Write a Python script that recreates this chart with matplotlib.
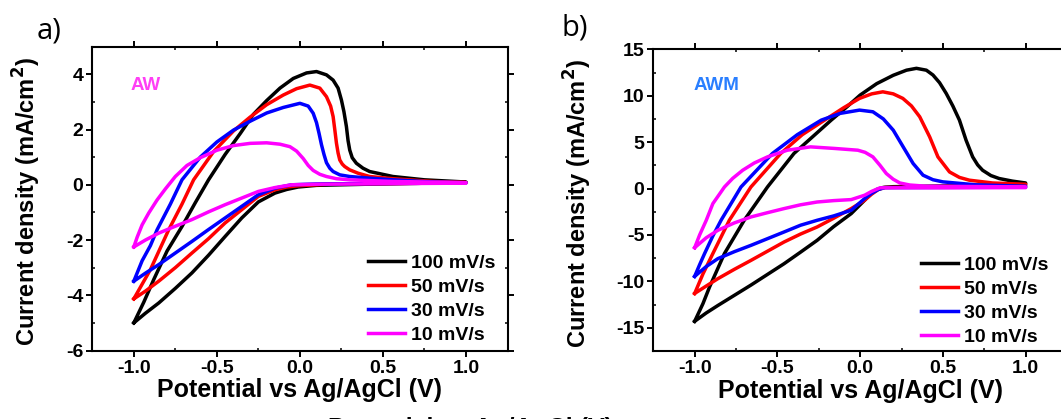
import matplotlib
matplotlib.use("Agg")
import matplotlib.pyplot as plt
from matplotlib.ticker import MultipleLocator, FormatStrFormatter

plt.rcParams['font.family'] = ['Liberation Sans', 'DejaVu Sans']
plt.rcParams['axes.unicode_minus'] = False

labels = ["100 mV/s", "50 mV/s", "30 mV/s", "10 mV/s"]
colors = ["#000000", "#FF0000", "#0000FF", "#FF00FF"]

# ---------- Panel a (AW): anodic scan from -1.0 V to 1.0 V, then back ----------
a_black_x = [-1.0, -0.94, -0.88, -0.80, -0.71, -0.63, -0.55, -0.45, -0.36, -0.28, -0.20, -0.12, -0.04, 0.04, 0.10, 0.16, 0.20, 0.23, 0.25, 0.265, 0.28, 0.29, 0.30, 0.315, 0.34, 0.38, 0.42, 0.56, 0.75, 1.0,
             1.0, 0.7, 0.4, 0.1, -0.01, -0.08, -0.15, -0.25, -0.35, -0.45, -0.55, -0.65, -0.75, -0.85, -0.93, -1.0]
a_black_y = [-5.0, -4.25, -3.43, -2.4, -1.51, -0.65, 0.18, 1.1, 1.85, 2.55, 3.05, 3.5, 3.85, 4.05, 4.1, 3.98, 3.79, 3.5, 3.07, 2.65, 2.11, 1.6, 1.26, 0.98, 0.78, 0.6, 0.48, 0.30, 0.18, 0.1,
             0.1, 0.05, 0.02, -0.02, -0.08, -0.17, -0.30, -0.62, -1.2, -1.87, -2.55, -3.19, -3.75, -4.28, -4.65, -5.0]

a_red_x = [-1.0, -0.95, -0.90, -0.79, -0.71, -0.64, -0.52, -0.40, -0.30, -0.20, -0.10, -0.02, 0.06, 0.12, 0.16, 0.185, 0.20, 0.21, 0.22, 0.23, 0.24, 0.255, 0.27, 0.30, 0.35, 0.42, 0.56, 0.8, 1.0,
           1.0, 0.6, 0.2, 0.0, -0.08, -0.15, -0.25, -0.35, -0.45, -0.55, -0.65, -0.75, -0.85, -0.93, -1.0]
a_red_y = [-4.13, -3.6, -3.07, -1.63, -0.7, 0.18, 1.2, 1.95, 2.45, 2.9, 3.25, 3.48, 3.61, 3.5, 3.19, 2.85, 2.47, 2.0, 1.51, 1.15, 0.90, 0.75, 0.66, 0.54, 0.42, 0.30, 0.22, 0.12, 0.08,
           0.08, 0.05, 0.03, -0.03, -0.08, -0.18, -0.42, -0.9, -1.38, -1.95, -2.47, -3.0, -3.49, -3.85, -4.13]

a_blue_x = [-1.0, -0.95, -0.90, -0.86, -0.78, -0.71, -0.60, -0.50, -0.40, -0.30, -0.20, -0.10, 0.0, 0.05, 0.08, 0.10, 0.115, 0.13, 0.145, 0.16, 0.18, 0.20, 0.24, 0.30, 0.42, 0.56, 0.8, 1.0,
            1.0, 0.5, 0.1, -0.05, -0.15, -0.25, -0.35, -0.45, -0.55, -0.65, -0.75, -0.85, -0.93, -1.0]
a_blue_y = [-3.49, -2.75, -2.2, -1.63, -0.7, 0.18, 1.0, 1.55, 1.98, 2.3, 2.6, 2.8, 2.95, 2.85, 2.59, 2.25, 1.87, 1.45, 1.1, 0.8, 0.6, 0.48, 0.36, 0.3, 0.24, 0.18, 0.1, 0.07,
            0.07, 0.05, 0.03, 0.0, -0.12, -0.36, -0.78, -1.20, -1.62, -2.05, -2.47, -2.89, -3.2, -3.49]

a_mag_x = [-1.0, -0.98, -0.95, -0.91, -0.86, -0.81, -0.75, -0.68, -0.60, -0.50, -0.40, -0.30, -0.20, -0.12, -0.06, -0.02, 0.02, 0.05, 0.08, 0.12, 0.16, 0.22, 0.30, 0.56, 1.0,
           1.0, 0.5, 0.1, -0.05, -0.15, -0.25, -0.35, -0.45, -0.55, -0.65, -0.75, -0.85, -0.93, -1.0]
a_mag_y = [-2.25, -1.9, -1.45, -1.02, -0.55, -0.15, 0.3, 0.7, 0.98, 1.25, 1.42, 1.5, 1.52, 1.47, 1.38, 1.22, 0.95, 0.7, 0.52, 0.38, 0.30, 0.22, 0.18, 0.12, 0.08,
           0.06, 0.04, 0.02, 0.0, -0.1, -0.24, -0.48, -0.72, -0.98, -1.26, -1.5, -1.75, -2.0, -2.25]

# ---------- Panel b (AWM) ----------
b_black_x = [-1.0, -0.95, -0.91, -0.82, -0.70, -0.56, -0.40, -0.175, -0.08, 0.0, 0.10, 0.20, 0.28, 0.34, 0.40, 0.44, 0.48, 0.52, 0.56, 0.60, 0.64, 0.68, 0.71, 0.74, 0.79, 0.84, 0.92, 1.0,
             1.0, 0.6, 0.2, 0.14, 0.10, 0.06, 0.027, -0.054, -0.16, -0.26, -0.36, -0.46, -0.56, -0.66, -0.76, -0.86, -0.93, -1.0]
b_black_y = [-14.3, -12.4, -10.6, -7.0, -3.4, 0.17, 3.78, 7.37, 8.8, 10.07, 11.3, 12.2, 12.75, 12.95, 12.75, 12.23, 11.4, 10.25, 8.9, 7.37, 5.21, 3.41, 2.55, 1.97, 1.4, 1.08, 0.8, 0.6,
             0.5, 0.3, 0.2, 0.12, -0.1, -0.6, -1.26, -2.7, -4.1, -5.58, -6.85, -8.1, -9.25, -10.4, -11.5, -12.6, -13.4, -14.3]

b_red_x = [-1.0, -0.95, -0.89, -0.79, -0.66, -0.48, -0.35, -0.215, -0.1, -0.004, 0.07, 0.137, 0.2, 0.258, 0.31, 0.36, 0.42, 0.47, 0.54, 0.6, 0.66, 0.8, 1.0,
           1.0, 0.5, 0.15, 0.11, 0.07, 0.027, -0.054, -0.16, -0.26, -0.36, -0.46, -0.56, -0.66, -0.76, -0.86, -0.93, -1.0]
b_red_y = [-11.3, -9.2, -7.0, -3.4, 0.17, 3.78, 5.8, 7.37, 8.7, 9.71, 10.2, 10.42, 10.2, 9.71, 8.9, 7.73, 5.57, 3.41, 1.79, 1.2, 0.9, 0.6, 0.46,
           0.35, 0.2, 0.12, -0.1, -0.6, -1.26, -2.16, -3.2, -4.14, -4.9, -5.76, -6.75, -7.74, -8.7, -9.71, -10.5, -11.3]

b_blue_x = [-1.0, -0.97, -0.94, -0.89, -0.84, -0.72, -0.53, -0.38, -0.235, -0.12, -0.004, 0.077, 0.14, 0.2, 0.26, 0.32, 0.38, 0.44, 0.50, 0.7, 1.0,
            1.0, 0.5, 0.15, 0.11, 0.07, 0.027, -0.054, -0.16, -0.26, -0.36, -0.46, -0.56, -0.66, -0.76, -0.86, -0.93, -1.0]
b_blue_y = [-9.46, -8.2, -7.0, -5.1, -3.4, 0.17, 3.78, 5.8, 7.37, 8.1, 8.45, 8.27, 7.5, 6.29, 4.49, 2.7, 1.44, 0.95, 0.72, 0.4, 0.25,
            0.15, 0.12, 0.1, -0.1, -0.5, -1.08, -2.34, -2.95, -3.42, -3.95, -4.68, -5.4, -6.12, -6.8, -7.55, -8.4, -9.46]

b_mag_x = [-1.0, -0.97, -0.93, -0.89, -0.85, -0.82, -0.77, -0.71, -0.64, -0.56, -0.44, -0.30, -0.155, -0.014, 0.03, 0.077, 0.12, 0.158, 0.2, 0.24, 0.30, 0.40, 1.0,
           1.0, 0.5, 0.12, 0.07, 0.027, -0.054, -0.16, -0.26, -0.36, -0.46, -0.56, -0.66, -0.76, -0.86, -0.93, -1.0]
b_mag_y = [-6.37, -5.0, -3.42, -1.62, -0.6, 0.17, 1.1, 1.97, 2.75, 3.41, 4.13, 4.49, 4.32, 4.13, 3.9, 3.41, 2.5, 1.62, 1.0, 0.6, 0.38, 0.25, 0.18,
           0.1, 0.08, 0.08, -0.3, -0.72, -1.19, -1.3, -1.45, -1.75, -2.16, -2.6, -3.06, -3.7, -4.5, -5.3, -6.37]

panel_a = [(a_black_x, a_black_y), (a_red_x, a_red_y), (a_blue_x, a_blue_y), (a_mag_x, a_mag_y)]
panel_b = [(b_black_x, b_black_y), (b_red_x, b_red_y), (b_blue_x, b_blue_y), (b_mag_x, b_mag_y)]

W, H = 1061, 419
fig = plt.figure(figsize=(W / 100, H / 100), dpi=100)


def px_axes(l, t, r, b):
    return fig.add_axes([l / W, 1 - b / H, (r - l) / W, (b - t) / H])


ax_a = px_axes(92.3, 46.7, 507.5, 350.5)
ax_b = px_axes(653.3, 49.3, 1067, 351)


def style(ax, ylim, ymaj, ymin, ylab_x):
    ax.set_xlim(-1.25, 1.25)
    ax.set_ylim(*ylim)
    ax.xaxis.set_major_locator(MultipleLocator(0.5))
    ax.xaxis.set_minor_locator(MultipleLocator(0.25))
    ax.yaxis.set_major_locator(MultipleLocator(ymaj))
    ax.yaxis.set_minor_locator(MultipleLocator(ymin))
    ax.xaxis.set_major_formatter(FormatStrFormatter('%.1f'))
    for s in ax.spines.values():
        s.set_linewidth(1.5)
    ax.tick_params(which='major', direction='out', length=4, width=1.4,
                   labelsize=14, pad=2.5)
    ax.tick_params(which='minor', direction='in', length=2.2, width=1.1)
    ax.tick_params(which='both', top=True, right=True)
    for lab in ax.get_xticklabels() + ax.get_yticklabels():
        lab.set_fontweight('bold')
    ax.set_xlabel("Potential vs Ag/AgCl (V)", fontsize=18, fontweight='bold')
    ax.set_ylabel("Current density (mA/cm$^\\mathbf{2}$)", fontsize=17, fontweight='bold')
    ax.xaxis.set_label_coords(0.5, -0.092)
    ax.yaxis.set_label_coords(ylab_x, 0.489)


for ax, data, ylim, ymaj, ymin, ylx, leg_xy in [
        (ax_a, panel_a, (-6, 5), 2, 1, -0.119, (368, 254)),
        (ax_b, panel_b, (-17.5, 15), 5, 2.5, -0.1445, (921, 256))]:
    for (x, y), c, lab in zip(data, colors, labels):
        ax.plot(x, y, color=c, lw=2.5, label=lab, solid_joinstyle='round')
    style(ax, ylim, ymaj, ymin, ylx)
    ax.legend(loc='upper left', frameon=False, prop={'size': 14, 'weight': 'bold'},
              handlelength=1.9, handletextpad=0.3, labelspacing=0.33,
              borderpad=0, borderaxespad=0,
              bbox_to_anchor=(leg_xy[0] / W, 1 - leg_xy[1] / H),
              bbox_transform=fig.transFigure)

fig.text(131 / W, 1 - 85 / H, "AW", color="#FF3FF5",
         fontsize=13.5, fontweight='bold', va='center', ha='left')
fig.text(693.7 / W, 1 - 85 / H, "AWM", color="#2A7FFF",
         fontsize=13.5, fontweight='bold', va='center', ha='left')

fig.text(37 / W, 1 - 31 / H, "a)", fontsize=21, family=['Open Sans', 'DejaVu Sans'], va='center', ha='left')
fig.text(561 / W, 1 - 28 / H, "b)", fontsize=21, family=['Open Sans', 'DejaVu Sans'], va='center', ha='left')

# partly visible repeated axis title cut off by the bottom edge (as in the reference)
fig.text(327.6 / W, 1 - 435.5 / H, "Potential vs Ag/AgCl (V)", fontsize=18, fontweight='bold',
         va='baseline', ha='left')

fig.savefig("out.png", dpi=100)
